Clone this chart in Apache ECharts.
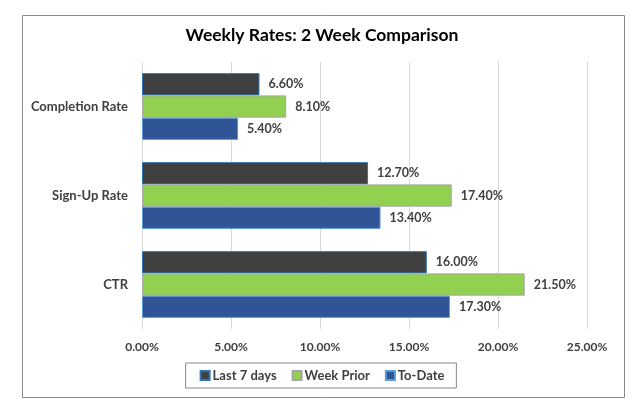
<!DOCTYPE html>
<html>
<head>
<meta charset="utf-8">
<script src="https://cdn.jsdelivr.net/npm/echarts@6/dist/echarts.min.js"></script>
<style>
html,body{margin:0;padding:0;background:#fff;}
#chart{width:644px;height:419px;}
</style>
</head>
<body>
<div id="chart"></div>
<script>
const categories = ['Completion Rate', 'Sign-Up Rate', 'CTR'];
const last7Days = [6.6, 12.7, 16.0];
const weekPrior = [8.1, 17.4, 21.5];
const toDate = [5.4, 13.4, 17.3];
const seriesNames = ['Last 7 days', 'Week Prior', 'To-Date'];
const xTicks = [0, 5, 10, 15, 20, 25];

const FONT = 'Lato, "Liberation Sans", sans-serif';
const chart = echarts.init(document.getElementById('chart'), null, {renderer: 'canvas'});

const labelCfg = {
  show: true, position: 'right', distance: 9,
  formatter: p => p.value.toFixed(2) + '%',
  color: '#404040', fontWeight: 'bold', fontSize: 12.5, fontFamily: FONT
};

chart.setOption({
  animation: false,
  backgroundColor: '#fff',
  title: {
    text: 'Weekly Rates: 2 Week Comparison',
    left: 'center', top: 21,
    textStyle: {fontFamily: FONT, fontWeight: 'bold', fontSize: 17.5, color: '#000'}
  },
  graphic: [{
    type: 'rect', shape: {x: 22.5, y: 15.5, width: 602, height: 382},
    style: {fill: 'none', stroke: '#898989', lineWidth: 1}, z: -1
  }],
  grid: {left: 142, right: 57, top: 62, bottom: 90, containLabel: false},
  xAxis: {
    type: 'value', min: xTicks[0], max: xTicks[xTicks.length - 1], interval: 5,
    axisLine: {show: false}, axisTick: {show: false},
    splitLine: {show: true, lineStyle: {color: '#d9d9d9', width: 1}},
    axisLabel: {
      margin: 12, formatter: v => v.toFixed(2) + '%',
      color: '#404040', fontWeight: 'bold', fontSize: 12, fontFamily: FONT
    }
  },
  yAxis: {
    type: 'category', data: categories, inverse: true,
    axisLine: {show: false}, axisTick: {show: false},
    axisLabel: {margin: 14, color: '#404040', fontWeight: 'bold', fontSize: 13, fontFamily: FONT}
  },
  legend: {
    bottom: 31, left: 'center',
    data: seriesNames,
    borderColor: '#898989', borderWidth: 1, borderRadius: 0,
    padding: [6, 12, 6, 14],
    itemWidth: 9, itemHeight: 9, itemGap: 15,
    icon: 'rect',
    textStyle: {color: '#404040', fontWeight: 'bold', fontSize: 13, fontFamily: FONT, padding: [0,0,0,-2]}
  },
  series: [
    {name: seriesNames[0], type: 'bar', data: last7Days, barGap: '0%', barCategoryGap: '25%',
     itemStyle: {color: '#404040', borderColor: '#2e75b6', borderWidth: 1}, label: labelCfg},
    {name: seriesNames[1], type: 'bar', data: weekPrior, barGap: '0%', barCategoryGap: '25%',
     itemStyle: {color: '#92d050', borderColor: '#a5a5a5', borderWidth: 1}, label: labelCfg},
    {name: seriesNames[2], type: 'bar', data: toDate, barGap: '0%', barCategoryGap: '25%',
     itemStyle: {color: '#2f5597', borderColor: '#5b9bd5', borderWidth: 1}, label: labelCfg}
  ]
});
</script>
</body>
</html>
